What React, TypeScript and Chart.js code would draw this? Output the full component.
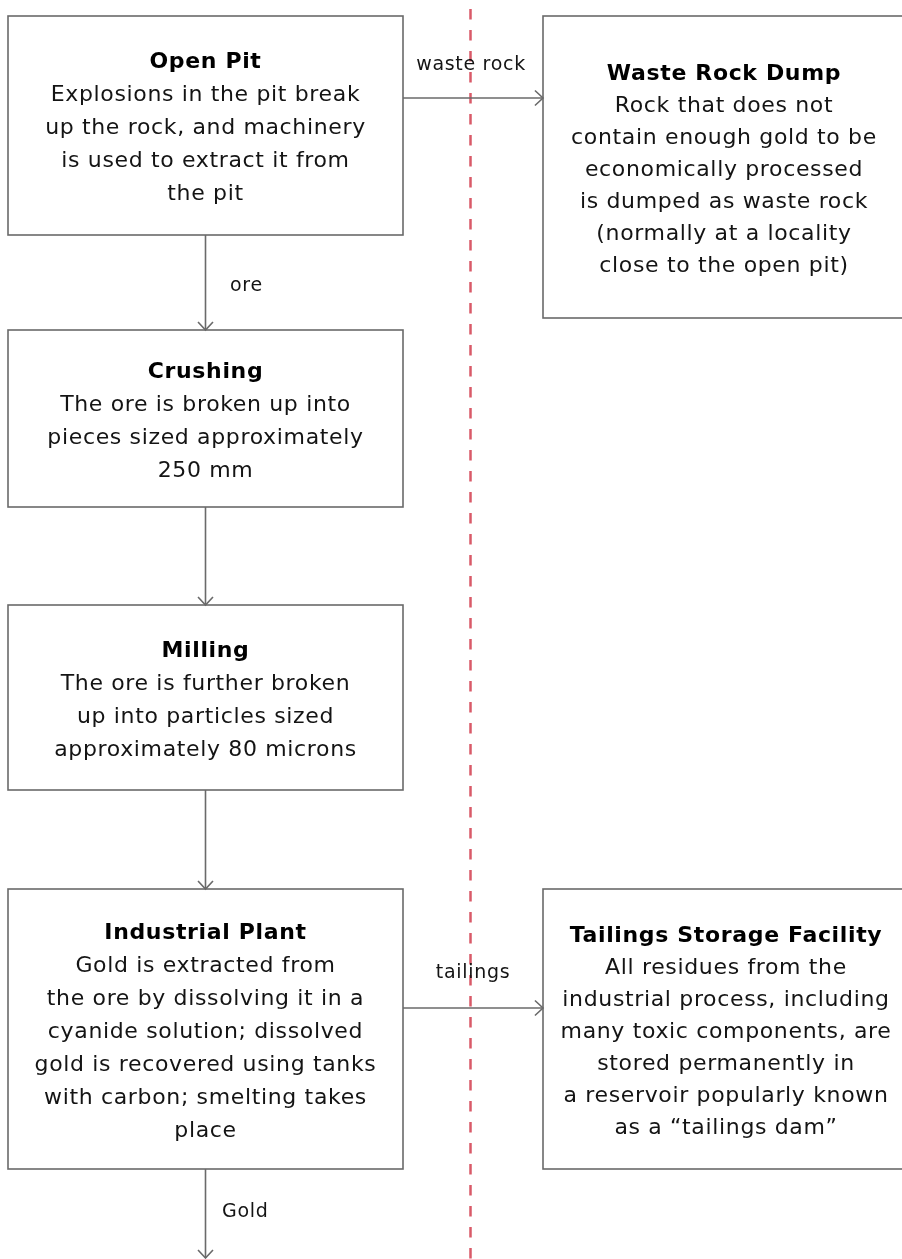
import React, { useEffect, useRef } from "react";
import { Chart, registerables } from "chart.js";

Chart.register(...registerables);

// ---------- content (data) ----------
const nodeIds = ["openPit", "crushing", "milling", "plant", "wasteDump", "tailings"];
const nodeTitles = [
  "Open Pit",
  "Crushing",
  "Milling",
  "Industrial Plant",
  "Waste Rock Dump",
  "Tailings Storage Facility",
];
const nodeLines = [
  ["Explosions in the pit break", "up the rock, and machinery", "is used to extract it from", "the pit"],
  ["The ore is broken up into", "pieces sized approximately", "250 mm"],
  ["The ore is further broken", "up into particles sized", "approximately 80 microns"],
  [
    "Gold is extracted from",
    "the ore by dissolving it in a",
    "cyanide solution; dissolved",
    "gold is recovered using tanks",
    "with carbon; smelting takes",
    "place",
  ],
  [
    "Rock that does not",
    "contain enough gold to be",
    "economically processed",
    "is dumped as waste rock",
    "(normally at a locality",
    "close to the open pit)",
  ],
  [
    "All residues from the",
    "industrial process, including",
    "many toxic components, are",
    "stored permanently in",
    "a reservoir popularly known",
    "as a \u201Ctailings dam\u201D",
  ],
];
const flowFrom = ["openPit", "openPit", "crushing", "milling", "plant", "plant"];
const flowTo = ["wasteDump", "crushing", "milling", "plant", "tailings", "output"];
const flowLabels = ["waste rock", "ore", "", "", "tailings", "Gold"];

// ---------- layout (in axis units) ----------
const nodeLayout: Record<string, { x0: number; y0: number; x1: number; y1: number; cx: number; gap: number }> = {
  openPit: { x0: 8, y0: 16, x1: 403, y1: 235, cx: 205.5, gap: 33 },
  crushing: { x0: 8, y0: 330, x1: 403, y1: 507, cx: 205.5, gap: 33 },
  milling: { x0: 8, y0: 605, x1: 403, y1: 790, cx: 205.5, gap: 33 },
  plant: { x0: 8, y0: 889, x1: 403, y1: 1169, cx: 205.5, gap: 33 },
  wasteDump: { x0: 543, y0: 16, x1: 912, y1: 318, cx: 724, gap: 32 },
  tailings: { x0: 543, y0: 889, x1: 912, y1: 1169, cx: 726, gap: 32 },
};
const flowLayout = [
  { x0: 403, y0: 98, x1: 543, y1: 98, lx: 471, ly: 65, align: "center" },
  { x0: 205.5, y0: 235, x1: 205.5, y1: 330, lx: 230, ly: 286, align: "left" },
  { x0: 205.5, y0: 507, x1: 205.5, y1: 605, lx: 0, ly: 0, align: "left" },
  { x0: 205.5, y0: 790, x1: 205.5, y1: 889, lx: 0, ly: 0, align: "left" },
  { x0: 403, y0: 1008, x1: 543, y1: 1008, lx: 473, ly: 973, align: "center" },
  { x0: 205.5, y0: 1169, x1: 205.5, y1: 1258, lx: 222, ly: 1212, align: "left" },
];
const divider = { x: 470.5, y0: 9, y1: 1259 };

const FONT = "'DejaVu Sans', 'Noto Sans', sans-serif";
const TEXT = "#141414";
const TITLE = "#000000";
const GRAY = "#6a6a6a";
const RED = "#d95a68";

const flowPlugin = {
  id: "flowPlugin",
  afterDatasetsDraw(chart: any) {
    const ctx: CanvasRenderingContext2D = chart.ctx;
    const xs = chart.scales.x;
    const ys = chart.scales.y;
    const X = (v: number) => xs.getPixelForValue(v);
    const Y = (v: number) => ys.getPixelForValue(v);
    ctx.save();

    // divider
    ctx.strokeStyle = RED;
    ctx.lineWidth = 2.5;
    ctx.setLineDash([10.5, 10.5]);
    ctx.beginPath();
    ctx.moveTo(X(divider.x), Y(divider.y0));
    ctx.lineTo(X(divider.x), Y(divider.y1));
    ctx.stroke();
    ctx.setLineDash([]);

    // boxes
    nodeIds.forEach((id, i) => {
      const L = nodeLayout[id];
      const x0 = X(L.x0), x1 = X(L.x1), y0 = Y(L.y0), y1 = Y(L.y1);
      ctx.fillStyle = "#ffffff";
      ctx.fillRect(x0, y0, x1 - x0, y1 - y0);
      ctx.strokeStyle = GRAY;
      ctx.lineWidth = 1.6;
      ctx.strokeRect(x0, y0, x1 - x0, y1 - y0);

      const lines = [nodeTitles[i], ...nodeLines[i]];
      const mid = (L.y0 + L.y1) / 2 + 3;
      const first = mid - ((lines.length - 1) * L.gap) / 2;
      ctx.textAlign = "center";
      ctx.textBaseline = "middle";
      (ctx as any).letterSpacing = "0.65px";
      lines.forEach((t, k) => {
        ctx.font = (k === 0 ? "bold " : "") + "22px " + FONT;
        ctx.fillStyle = k === 0 ? TITLE : TEXT;
        ctx.fillText(t, X(L.cx), Y(first + k * L.gap));
      });
    });

    // flows
    flowFrom.forEach((_, i) => {
      const F = flowLayout[i];
      const x0 = X(F.x0), y0 = Y(F.y0), x1 = X(F.x1), y1 = Y(F.y1);
      ctx.strokeStyle = GRAY;
      ctx.lineWidth = 1.6;
      ctx.beginPath();
      ctx.moveTo(x0, y0);
      ctx.lineTo(x1, y1);
      ctx.stroke();
      const ang = Math.atan2(y1 - y0, x1 - x0);
      const len = 11;
      const spread = Math.PI / 4.2;
      ctx.beginPath();
      ctx.moveTo(x1 - len * Math.cos(ang - spread), y1 - len * Math.sin(ang - spread));
      ctx.lineTo(x1, y1);
      ctx.lineTo(x1 - len * Math.cos(ang + spread), y1 - len * Math.sin(ang + spread));
      ctx.stroke();

      if (flowLabels[i]) {
        ctx.font = "19px " + FONT;
        (ctx as any).letterSpacing = "0.7px";
        ctx.fillStyle = TEXT;
        ctx.textAlign = F.align as CanvasTextAlign;
        ctx.textBaseline = "middle";
        ctx.fillText(flowLabels[i], X(F.lx), Y(F.ly));
      }
    });

    ctx.restore();
  },
};

export default function App() {
  const ref = useRef<HTMLCanvasElement | null>(null);
  useEffect(() => {
    if (!ref.current) return;
    const centers = nodeIds.map((id) => ({
      x: nodeLayout[id].cx,
      y: (nodeLayout[id].y0 + nodeLayout[id].y1) / 2,
    }));
    const chart = new Chart(ref.current, {
      type: "scatter",
      data: {
        datasets: [{ data: centers, pointRadius: 0, pointHoverRadius: 0 }],
      },
      options: {
        responsive: false,
        animation: false,
        events: [],
        layout: { padding: 0 },
        plugins: { legend: { display: false }, tooltip: { enabled: false } },
        scales: {
          x: { type: "linear", min: 0, max: 902, display: false },
          y: { type: "linear", min: 0, max: 1259, reverse: true, display: false },
        },
      },
      plugins: [flowPlugin],
    });
    return () => chart.destroy();
  }, []);
  return (
    <div style={{ position: "absolute", left: 0, top: 0, width: 902, height: 1259, background: "#fff" }}>
      <canvas ref={ref} width={902} height={1259} style={{ display: "block" }} />
    </div>
  );
}
